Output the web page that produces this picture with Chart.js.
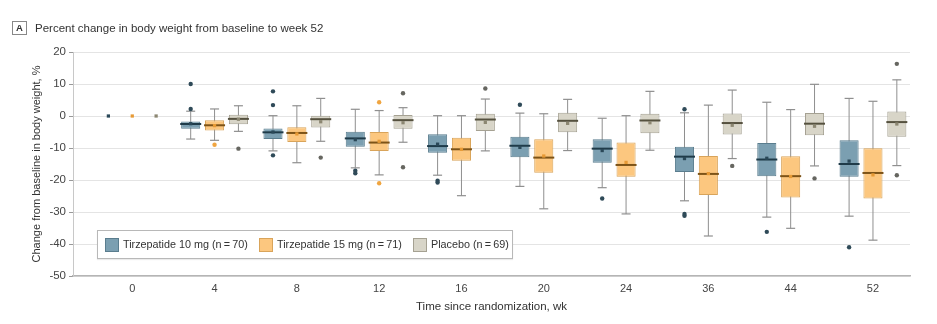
<!DOCTYPE html>
<html>
<head>
<meta charset="utf-8">
<script src="https://cdn.jsdelivr.net/npm/chart.js@4.4.1/dist/chart.umd.min.js"></script>
<style>
  body { margin: 0; background: #fff; }
  #wrap { position: relative; width: 937px; height: 324px; font-family: "Liberation Sans", Arial, sans-serif; color: #333; }
  #c { position: absolute; left: 0; top: 0; }
  .tag { position: absolute; left: 12px; top: 21px; width: 13px; height: 12px; border: 1px solid #888; font: bold 9.5px "Liberation Sans", sans-serif; text-align: center; line-height: 12px; color: #333; }
  .title { position: absolute; left: 35px; top: 20px; font-size: 11.5px; line-height: 16px; color: #333; }
  .legend { position: absolute; left: 97px; top: 230px; width: 414px; height: 27px; border: 1px solid #b8b8b8; background: #fff; box-shadow: 0 1px 1px rgba(0,0,0,0.08); }
  .sw { position: absolute; top: 7px; width: 12px; height: 12px; border: 1px solid; }
  .lt { position: absolute; top: 6px; font-size: 10.8px; line-height: 15px; color: #333; white-space: nowrap; }
</style>
</head>
<body>
<div id="wrap">
  <canvas id="c" width="937" height="324"></canvas>
  <div class="tag">A</div>
  <div class="title">Percent change in body weight from baseline to week 52</div>
  <div class="legend">
    <div class="sw" style="left:7px;background:#7b9fb1;border-color:#5a7d8e"></div>
    <div class="lt" style="left:25px">Tirzepatide 10 mg (n&thinsp;=&thinsp;70)</div>
    <div class="sw" style="left:161px;background:#fcc77f;border-color:#d9a45a"></div>
    <div class="lt" style="left:179px">Tirzepatide 15 mg (n&thinsp;=&thinsp;71)</div>
    <div class="sw" style="left:315px;background:#d8d5c8;border-color:#a5a192"></div>
    <div class="lt" style="left:333px">Placebo (n&thinsp;=&thinsp;69)</div>
  </div>
</div>
<script>
// weeks on the x axis
const weeks = ['0', '4', '8', '12', '16', '20', '24', '36', '44', '52'];

// Tirzepatide 10 mg
const t10Low    = [null, -7.2, -10.9, -16.2, -18.5, -22, -22.4, -26.5, -31.6, -31.3];
const t10Q1     = [null, -4.0, -7.2, -9.6, -11.5, -12.9, -14.6, -17.5, -18.8, -19];
const t10Median = [null, -2.5, -5.1, -7.0, -9.4, -9.3, -10.2, -12.7, -13.6, -15];
const t10Q3     = [null, -1.7, -3.9, -4.9, -5.7, -6.5, -7.3, -9.6, -8.4, -7.6];
const t10High   = [null, 1.5, 0.1, 2.1, 0.1, 0.9, -0.7, 1.0, 4.3, 5.5];
const t10Mean   = [0, -2.4, -5.0, -7.4, -8.8, -9.8, -10.8, -13.3, -13.2, -14.1];
const t10Out    = [[], [2.2, 10], [7.7, 3.4, -12.3], [-17.1, -17.9], [-20.2, -20.8], [3.5], [-25.8], [2.1, -30.6, -31.2], [-36.2], [-41]];

// Tirzepatide 15 mg
const t15Low    = [null, -7.6, -14.6, -18.4, -24.9, -29, -30.6, -37.5, -35.1, -38.8];
const t15Q1     = [null, -4.5, -8.1, -10.9, -14, -17.7, -19, -24.7, -25.5, -25.8];
const t15Median = [null, -2.9, -5.3, -8.3, -10.4, -13, -15.3, -18.1, -18.8, -17.8];
const t15Q3     = [null, -1.3, -3.5, -5, -6.8, -7.3, -8.3, -12.5, -12.6, -10.1];
const t15High   = [null, 2.2, 3.2, 1.7, 0.1, 0.7, 0.1, 3.4, 2.0, 4.6];
const t15Mean   = [0, -3, -5.6, -7.9, -10.4, -12.5, -14.5, -18, -18.9, -18.4];
const t15Out    = [[], [-9], [], [4.3, -21], [], [], [], [], [], []];

// Placebo
const pLow    = [null, -4.8, -7.9, -8.2, -10.9, -10.8, -10.7, -13.3, -15.6, -15.5];
const pQ1     = [null, -2.6, -3.6, -4.0, -4.7, -5.1, -5.4, -5.8, -6.0, -6.5];
const pMedian = [null, -0.9, -1.0, -1.3, -1.1, -1.5, -1.4, -2.2, -2.4, -1.9];
const pQ3     = [null, 0.4, 0.1, 0.3, 0.7, 1.0, 0.7, 0.8, 0.9, 1.4];
const pHigh   = [null, 3.2, 5.5, 2.6, 5.3, 5.2, 7.7, 8.1, 9.9, 11.3];
const pMean   = [0, -1, -1.8, -2.1, -2.0, -2.3, -2.1, -2.9, -3.2, -2.5];
const pOut    = [[], [-10.2], [-13], [7.1, -16], [8.6], [], [], [-15.6], [-19.5], [16.3, -18.5]];

const whiskerColor = '#8f8f8f';

function pts(arr, off) {
  const out = [];
  arr.forEach((v, i) => { if (v !== null) out.push({x: i + off, y: v}); });
  return out;
}

function groupSets(g) {
  const off = g.off;
  const whiskers = [], boxes = [], caps = [], outl = [];
  g.low.forEach((v, i) => {
    if (v === null) return;
    whiskers.push({x: i + off, y: [v, g.high[i]]});
    boxes.push({x: i + off, y: [g.q1[i], g.q3[i]]});
    caps.push({x: i + off, y: v}, {x: i + off, y: g.high[i]});
  });
  g.out.forEach((list, i) => list.forEach(v => outl.push({x: i + off, y: v})));
  return [
    {type: 'bar', data: whiskers, backgroundColor: whiskerColor, grouped: false, barPercentage: 1, maxBarThickness: 1, order: 6},
    {type: 'bar', data: boxes, backgroundColor: g.fill, borderColor: g.edge, borderWidth: 1, borderSkipped: false, grouped: false, barPercentage: 1, maxBarThickness: 22, order: 5},
    {type: 'scatter', data: caps, pointStyle: 'line', radius: 4.5, borderColor: whiskerColor, borderWidth: 1.2, order: 4},
    {type: 'scatter', data: pts(g.median, off), pointStyle: 'line', radius: 10.5, borderColor: g.med, borderWidth: 2, order: 3},
    {type: 'scatter', data: pts(g.mean, off), pointStyle: 'rect', radius: 2.3, backgroundColor: g.meanColor, borderColor: g.meanColor, borderWidth: 0, order: 2},
    {type: 'scatter', data: outl, pointStyle: 'circle', radius: 2.2, backgroundColor: g.outColor, borderColor: g.outColor, borderWidth: 0, order: 1}
  ];
}

const groups = [
  {off: -0.29, low: t10Low, q1: t10Q1, median: t10Median, q3: t10Q3, high: t10High, mean: t10Mean, out: t10Out,
   fill: '#7b9fb1', edge: '#5a7d8e', med: '#1f3b49', meanColor: '#2a4858', outColor: '#2f4a58'},
  {off: 0, low: t15Low, q1: t15Q1, median: t15Median, q3: t15Q3, high: t15High, mean: t15Mean, out: t15Out,
   fill: '#fcc77f', edge: '#d9a45a', med: '#7d5317', meanColor: '#e79a35', outColor: '#f0a540'},
  {off: 0.29, low: pLow, q1: pQ1, median: pMedian, q3: pQ3, high: pHigh, mean: pMean, out: pOut,
   fill: '#d8d5c8', edge: '#a5a192', med: '#55513f', meanColor: '#8c8772', outColor: '#666660'}
];

const datasets = [];
groups.forEach(g => datasets.push(...groupSets(g)));

const fam = '"Liberation Sans", Arial, sans-serif';

new Chart(document.getElementById('c'), {
  type: 'bar',
  data: {datasets: datasets},
  options: {
    responsive: false,
    animation: false,
    layout: {padding: {top: 52, right: 27, bottom: 10, left: 0}},
    plugins: {legend: {display: false}, tooltip: {enabled: false}},
    scales: {
      x: {
        type: 'linear',
        min: -0.72,
        max: 9.45,
        offset: false,
        afterFit: s => { s.height = 38; },
        grid: {display: false, offset: false, drawTicks: false},
        border: {display: true, color: '#b5b5b5', width: 1.5},
        afterBuildTicks: s => { s.ticks = weeks.map((w, i) => ({value: i})); },
        ticks: {padding: 6, color: '#444', font: {family: fam, size: 11}, callback: v => weeks[v], maxRotation: 0, autoSkip: false},
        title: {display: true, text: 'Time since randomization, wk', color: '#333', font: {family: fam, size: 11.5}, padding: {top: 3, bottom: 0}}
      },
      y: {
        min: -50,
        max: 20,
        afterFit: s => { s.width = 73; },
        grid: {color: '#e4e4e4', tickLength: 4, tickColor: '#999'},
        border: {color: '#c8c8c8'},
        ticks: {stepSize: 10, padding: 3, color: '#444', font: {family: fam, size: 11.5}},
        title: {display: true, text: 'Change from baseline in body weight, %', color: '#333', font: {family: fam, size: 11}, padding: {top: 30, bottom: 0}}
      }
    }
  }
});
</script>
</body>
</html>
